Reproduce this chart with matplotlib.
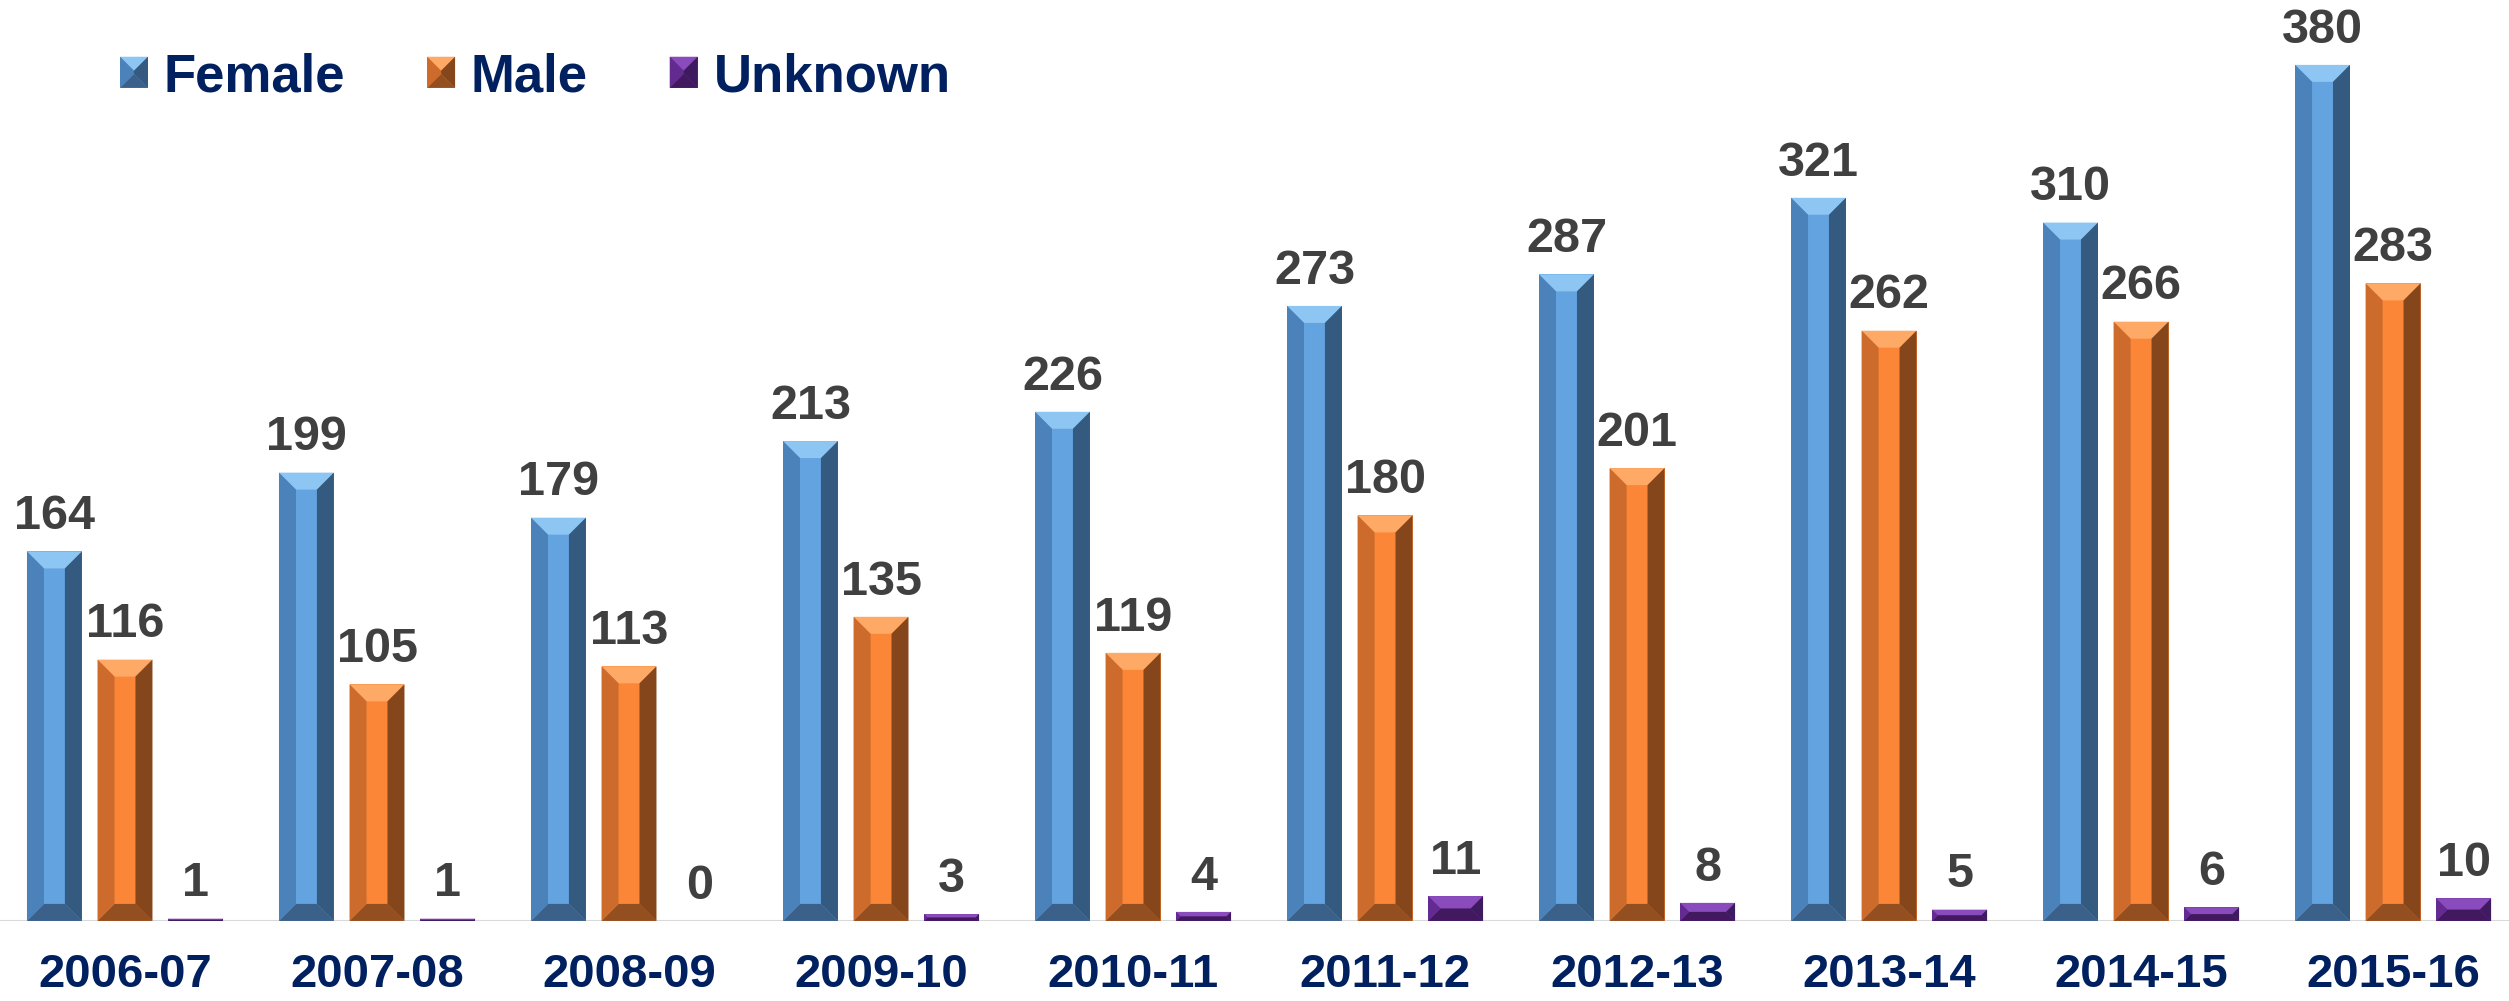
"""Grouped bar chart: records by gender, 2006-07 to 2015-16."""

import matplotlib

matplotlib.use("Agg")
import matplotlib.pyplot as plt
import numpy as np
from matplotlib.legend_handler import HandlerBase
from matplotlib.patches import Polygon, Rectangle


YEARS = [
    "2006-07", "2007-08", "2008-09", "2009-10", "2010-11",
    "2011-12", "2012-13", "2013-14", "2014-15", "2015-16",
]
FEMALE = [164, 199, 179, 213, 226, 273, 287, 321, 310, 380]
MALE = [116, 105, 113, 135, 119, 180, 201, 262, 266, 283]
UNKNOWN = [1, 1, 0, 3, 4, 11, 8, 5, 6, 10]
SERIES = ["Female", "Male", "Unknown"]

SHADES = {
    "Female": dict(face="#62A3E0", top="#8DC5F3", left="#4C82BA",
                   right="#345A80", bottom="#3B6089"),
    "Male": dict(face="#FB8638", top="#FEAA66", left="#CC6B2B",
                 right="#86461C", bottom="#944F20"),
    "Unknown": dict(face="#7332A6", top="#8A4CBC", left="#632A90",
                    right="#3E1A5E", bottom="#42195F"),
}
LABEL_GREY = "#404040"
NAVY = "#002060"
FONT = ["Liberation Sans", "DejaVu Sans"]

BAR_WIDTH = 0.218
BAR_STEP = 0.28
BEVEL_PX = 17


def _bevel_faces(x0, y0, x1, y1, b):
    return [
        ("top", [(x0, y1), (x1, y1), (x1 - b, y1 - b), (x0 + b, y1 - b)]),
        ("bottom", [(x0, y0), (x1, y0), (x1 - b, y0 + b), (x0 + b, y0 + b)]),
        ("left", [(x0, y0), (x0 + b, y0 + b), (x0 + b, y1 - b), (x0, y1)]),
        ("right", [(x1, y0), (x1 - b, y0 + b), (x1 - b, y1 - b), (x1, y1)]),
    ]


class _BevelHandler(HandlerBase):
    def __init__(self, shades):
        super().__init__()
        self.shades = shades

    def create_artists(self, legend, orig_handle, xdescent, ydescent,
                       width, height, fontsize, trans):
        x0, y0 = -xdescent, -ydescent
        x1, y1 = x0 + width, y0 + height
        b = min(width, height) / 2
        artists = [Rectangle((x0, y0), width, height,
                             facecolor=self.shades["face"], edgecolor="none",
                             transform=trans)]
        for key, verts in _bevel_faces(x0, y0, x1, y1, b):
            artists.append(Polygon(verts, closed=True,
                                   facecolor=self.shades[key],
                                   edgecolor="none", transform=trans))
        return artists


def _add_bevels(ax, bars, shades):
    to_disp = ax.transData
    to_data = ax.transData.inverted()
    for bar in bars:
        h = bar.get_height()
        if h <= 0:
            continue
        (px0, py0), (px1, py1) = to_disp.transform(
            [(bar.get_x(), 0), (bar.get_x() + bar.get_width(), h)]
        )
        b = min(BEVEL_PX, (px1 - px0) / 2, (py1 - py0) / 2)
        for key, verts in _bevel_faces(px0, py0, px1, py1, b):
            data_verts = to_data.transform(verts)
            ax.add_patch(Polygon(data_verts, closed=True,
                                 facecolor=shades[key], edgecolor="none",
                                 zorder=3))


def main():
    fig = plt.figure(figsize=(25.09, 10.01), dpi=100)
    ax = fig.add_axes([0, 0.08, 1, 0.92])
    ax.set_xlim(-0.496, 9.46)
    ax.set_ylim(0, 408.8)

    x = np.arange(len(YEARS))
    handles = []
    for i, (name, values) in enumerate(zip(SERIES, [FEMALE, MALE, UNKNOWN])):
        shades = SHADES[name]
        bars = ax.bar(x + (i - 1) * BAR_STEP, values, BAR_WIDTH,
                      color=shades["face"], edgecolor="none", zorder=2,
                      label=name)
        _add_bevels(ax, bars, shades)
        for bar, v in zip(bars, values):
            ax.annotate(
                str(v),
                (bar.get_x() + bar.get_width() / 2, v),
                xytext=(0, 16), textcoords="offset points",
                ha="center", va="baseline", fontsize=35,
                fontweight="bold", color=LABEL_GREY, family=FONT,
            )
        handles.append(bars.patches[0])

    ax.axhline(0, color="#D9D9D9", linewidth=1.5, zorder=1)

    for side in ["top", "right", "left", "bottom"]:
        ax.spines[side].set_visible(False)
    ax.set_yticks([])
    ax.set_xticks(x)
    ax.set_xticklabels(YEARS, fontsize=34, fontweight="bold", color=NAVY,
                       family=FONT)
    ax.tick_params(axis="x", length=0, pad=23)

    handler_map = {
        h: _BevelHandler(SHADES[name]) for h, name in zip(handles, SERIES)
    }
    fig.legend(
        handles, SERIES, handler_map=handler_map,
        loc="upper left", bbox_to_anchor=(120 / 2509, 1 - 52 / 1001),
        ncol=3, frameon=False, borderpad=0, borderaxespad=0,
        handlelength=0.53, handleheight=0.53, handletextpad=0.3,
        columnspacing=1.55, labelcolor=NAVY,
        prop=dict(family=FONT, weight="bold", size=38),
    )

    fig.savefig("out.png", dpi=100)


if __name__ == "__main__":
    main()
